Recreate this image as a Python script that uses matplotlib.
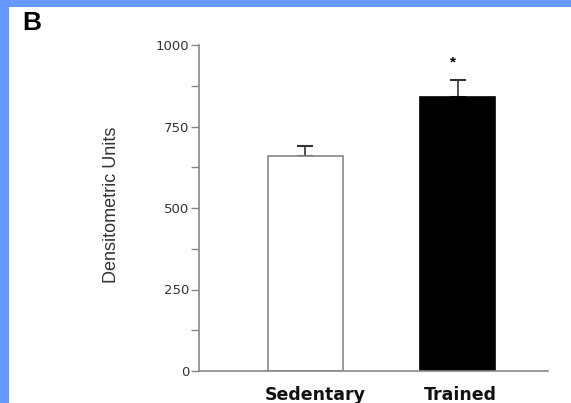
import matplotlib.pyplot as plt
from matplotlib.patches import Rectangle

plt.rcParams['font.family'] = ['Liberation Sans', 'DejaVu Sans']

groups = ['Sedentary', 'Trained']
means = [660, 840]
errors = [30, 53]
colors = ['white', 'black']
label_shift = [0.065, 0.02]   # category labels sit a little right of bar centres

fig = plt.figure(figsize=(5.71, 4.03), dpi=100)
fig.patch.set_facecolor('white')
# blue frame along the top and left edges
blue = '#6699ff'
fig.patches.append(Rectangle((0, 1 - 7 / 403), 1, 7 / 403, transform=fig.transFigure,
                             facecolor=blue, edgecolor='none'))
fig.patches.append(Rectangle((0, 0), 9 / 571, 1, transform=fig.transFigure,
                             facecolor=blue, edgecolor='none'))

ax = fig.add_axes([199 / 571, 1 - 371 / 403, 349 / 571, 326 / 403])
ax.set_facecolor('none')

pos = [0, 1]
ax.bar(pos, means, width=0.49, color=colors, edgecolor=['#888888', 'black'],
       linewidth=1.2, zorder=2)
ax.errorbar(pos, means, yerr=[[0, 0], errors], fmt='none', ecolor='#333333',
            elinewidth=1.2, capsize=6, capthick=1.5, zorder=1)
ax.text(0.97, means[1] + errors[1] + 52, '*', ha='center', va='center',
        fontsize=11, fontweight='bold')

ax.set_xlim(-0.70, 1.595)
ax.set_ylim(0, 1000)
ax.set_yticks([0, 250, 500, 750, 1000])
ax.set_yticks([125, 375, 625, 875], minor=True)
ax.tick_params(axis='y', which='both', direction='out', length=6, width=1,
               color='#888888', pad=1)
for lab in ax.get_yticklabels():
    lab.set_fontfamily('DejaVu Sans')
    lab.set_fontsize(9.5)
    lab.set_color('#333333')
ax.set_xticks([])
trans = ax.get_xaxis_transform()
for p, g, s in zip(pos, groups, label_shift):
    ax.text(p + s, -0.073, g, transform=trans, ha='center', va='center',
            fontsize=12.5, fontweight='bold', family='DejaVu Sans', color='#111111')

for side in ['top', 'right']:
    ax.spines[side].set_visible(False)
for side in ['left', 'bottom']:
    ax.spines[side].set_color('#888888')
    ax.spines[side].set_linewidth(1.2)

ax.set_ylabel('Densitometric Units', fontsize=13, color='#333333')
ax.yaxis.set_label_coords(-0.225, 0.51)

fig.text(22 / 571, 1 - 23 / 403, 'B', fontsize=19, fontweight='bold',
         va='center', ha='left')

fig.savefig('out.png', dpi=100, facecolor=fig.get_facecolor())
